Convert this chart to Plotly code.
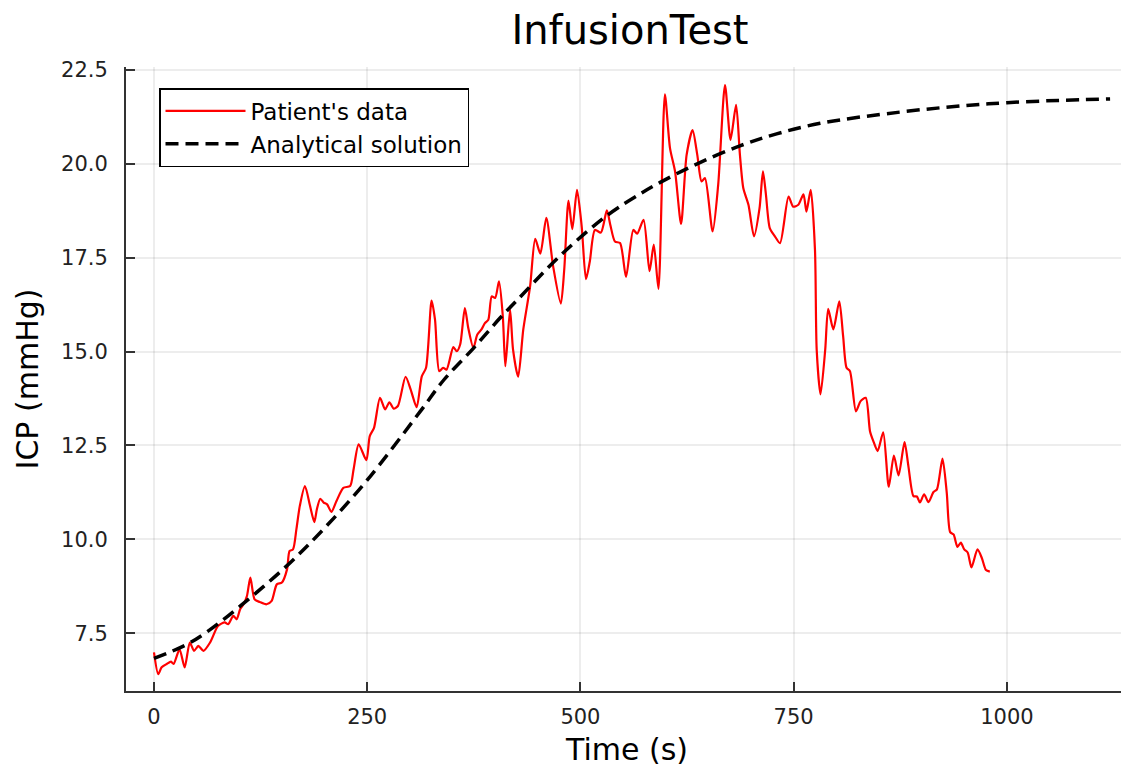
import plotly.graph_objects as go

# Patient's data
time_s = [0, 5, 9, 15, 20, 23, 30, 36, 42, 47, 52, 58, 66, 75, 83, 87, 93, 97, 101, 105,
          109, 113, 118, 124, 132, 138, 144, 150, 156, 159, 163, 167, 171, 177, 183, 188,
          191, 195, 199, 203, 208, 214, 222, 230, 234, 240, 249, 253, 258, 265, 271, 276,
          281, 286, 295, 301, 308, 314, 319, 325.5, 329.5, 334.5, 339, 343, 351, 355, 359,
          364.5, 368.5, 374.5, 379, 384, 388, 392, 396, 400, 404.5, 409, 412, 417.5, 421,
          427, 433, 441, 447, 453, 460, 468, 477, 481, 486, 490.5, 496, 501.5, 506.5, 511,
          517, 524, 531, 535, 540.5, 546.5, 553.5, 562, 566.5, 574, 581, 586, 591.5, 599,
          605, 611, 618, 624.5, 631.5, 637, 642, 646, 655, 661.5, 669.5, 676, 682.5, 687,
          691, 697, 703.5, 710, 714, 717.5, 722, 728, 734, 744, 749.5, 755.5, 761.5, 765,
          770, 775, 777, 781.5, 787, 790.5, 796.5, 803.5, 808, 812, 816, 823, 828.5, 834.5,
          839.5, 843.5, 848.5, 855, 861.5, 867.5, 873, 880, 884.5, 890.5, 894.5, 898, 903,
          908, 914, 918, 924.5, 929.5, 933.5, 937.5, 942, 946, 950, 954, 958.5, 965.5,
          970.5, 975.5, 980]
icp_mmhg = [6.99, 6.41, 6.59, 6.68, 6.74, 6.68, 7.07, 6.59, 7.25, 7.03, 7.16, 7.03, 7.26, 7.69,
            7.79, 7.74, 7.96, 7.87, 8.14, 8.27, 8.49, 8.98, 8.40, 8.33, 8.27, 8.36, 8.80, 8.85,
            9.20, 9.69, 9.73, 10.27, 10.89, 11.42, 10.89, 10.46, 10.80, 11.08, 10.98, 10.93,
            10.73, 11.02, 11.37, 11.42, 11.86, 12.53, 12.11, 12.75, 12.97, 13.77, 13.46, 13.65,
            13.48, 13.55, 14.33, 13.99, 13.52, 14.34, 14.57, 16.36, 15.85, 14.48, 14.57, 14.52,
            15.12, 15.01, 15.19, 16.16, 15.63, 15.10, 15.45, 15.59, 15.76, 15.85, 16.47, 16.43,
            16.87, 15.94, 14.61, 16.12, 15.05, 14.33, 15.59, 16.74, 18.00, 17.61, 18.56, 17.27,
            16.28, 17.18, 19.02, 18.26, 19.31, 18.33, 16.93, 17.40, 18.24, 18.17, 18.76, 18.38,
            17.93, 17.89, 16.99, 18.24, 18.14, 18.51, 17.14, 17.85, 16.67, 21.85, 20.42, 19.79,
            18.40, 20.24, 20.90, 20.24, 19.53, 19.62, 18.20, 19.44, 22.10, 20.64, 21.57, 20.24,
            19.35, 18.91, 18.07, 18.82, 19.80, 19.18, 18.29, 18.07, 17.89, 19.13, 18.86, 18.91,
            19.19, 18.73, 19.31, 17.71, 15.05, 13.86, 15.05, 16.14, 15.59, 16.34, 15.41, 14.57,
            14.48, 13.41, 13.68, 13.77, 12.88, 12.61, 12.35, 12.85, 11.40, 12.23, 11.70, 12.59,
            11.95, 11.15, 11.14, 10.98, 11.20, 10.99, 11.26, 11.33, 12.15, 11.24, 10.19, 10.13,
            9.80, 9.91, 9.73, 9.65, 9.25, 9.73, 9.51, 9.18, 9.14]

# Analytical solution
model_time_s = [0, 36, 60, 101, 156, 200, 249, 312, 340, 375, 406, 425, 476, 531, 570, 593,
                632, 687, 730, 781, 875, 950, 1000, 1060, 1121]
model_icp = [6.83, 7.17, 7.50, 8.22, 9.30, 10.30, 11.55, 13.40, 14.25, 15.10, 15.90, 16.35,
             17.55, 18.62, 19.20, 19.50, 19.95, 20.48, 20.80, 21.08, 21.38, 21.55, 21.63,
             21.69, 21.73]

x_ticks = [0, 250, 500, 750, 1000]
y_ticks = [7.5, 10.0, 12.5, 15.0, 17.5, 20.0, 22.5]
y_tick_text = ["7.5", "10.0", "12.5", "15.0", "17.5", "20.0", "22.5"]

FONT = "DejaVu Sans"

fig = go.Figure()
fig.add_trace(go.Scatter(
    x=time_s, y=icp_mmhg, mode="lines", name="Patient's data",
    line=dict(color="#ff0000", width=2.2, shape="spline", smoothing=0.7),
))
fig.add_trace(go.Scatter(
    x=model_time_s, y=model_icp, mode="lines", name="Analytical solution",
    line=dict(color="#000000", width=3.5, dash="13px,7px", shape="spline", smoothing=1.0),
))

axis_common = dict(
    showline=True, linecolor="#333333", linewidth=2, mirror=False,
    ticks="inside", ticklen=9, tickwidth=1.5, tickcolor="#333333",
    showgrid=True, gridcolor="rgba(0,0,0,0.07)", gridwidth=1.5,
    zeroline=False, automargin=False,
    tickfont=dict(family=FONT, size=21, color="#222222"),
)

# the page body has an 8px margin; the figure is sized so the plot area lands
# at x 126..1128 and y 67..691 in the browser window
fig.update_layout(
    width=1121, height=763,
    paper_bgcolor="white", plot_bgcolor="white",
    margin=dict(l=118, r=1, t=59, b=80),
    title=dict(text="InfusionTest", x=0.503, xref="paper", xanchor="center",
               y=1 - 22 / 763, yref="container", yanchor="middle",
               font=dict(family=FONT, size=40, color="#000000")),
    xaxis=dict(range=[-32.8, 1142], tickvals=x_ticks, ticklabelstandoff=6,
               title=dict(text="Time (s)", font=dict(family=FONT, size=30, color="#000000"),
                          standoff=11),
               **axis_common),
    yaxis=dict(range=[5.96, 22.58], tickvals=y_ticks, ticktext=y_tick_text,
               ticklabelstandoff=12,
               title=dict(text="ICP (mmHg)", font=dict(family=FONT, size=30, color="#000000"),
                          standoff=14),
               **axis_common),
    legend=dict(x=(159 - 126) / 1002, y=1 - (88 - 67) / 624, xanchor="left", yanchor="top",
                bgcolor="white", bordercolor="#000000", borderwidth=1.5,
                font=dict(family=FONT, size=23, color="#000000"),
                tracegroupgap=0, itemwidth=80),
    showlegend=True,
)

fig.write_html("out.html")
